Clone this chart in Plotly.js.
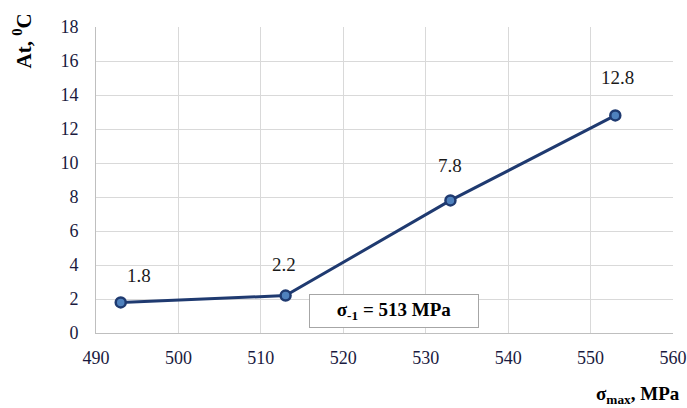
<!DOCTYPE html>
<html><head><meta charset="utf-8">
<script src="https://cdn.plot.ly/plotly-3.0.1.min.js"></script>
<style>body{margin:0;background:#fff}#c{width:687px;height:408px}</style>
</head><body><div id="c"></div>
<script>
const sigmaMax = [493, 513, 533, 553];
const deltaT = [1.8, 2.2, 7.8, 12.8];
const labels = ["1.8", "2.2", "7.8", "12.8"];
const xTicks = [490, 500, 510, 520, 530, 540, 550, 560];
const yTicks = [0, 2, 4, 6, 8, 10, 12, 14, 16, 18];

// label placement offsets (px), layout only
const labelShiftX = [18, -2, 0, 2];
const labelShiftY = [27, 31, 35, 38];

const serif = "Liberation Serif";
const navy = "#1f3a70";

const trace = {
  x: sigmaMax, y: deltaT, type: "scatter", mode: "lines+markers",
  line: {color: navy, width: 3},
  marker: {size: 10, color: "#4f81bd", line: {color: navy, width: 2.5}},
  hoverinfo: "none", cliponaxis: false
};

const annotations = sigmaMax.map((x, i) => ({
  x: x, y: deltaT[i], text: labels[i], showarrow: false,
  xshift: labelShiftX[i], yshift: labelShiftY[i],
  font: {family: serif, size: 19, color: "#1a1a1a"}
}));
annotations.push({
  xref: "paper", yref: "paper", x: -0.128, y: 0.953, xanchor: "center", yanchor: "middle",
  text: "At, <sup>0</sup>C", textangle: -90, showarrow: false,
  font: {family: serif, size: 21, color: "#000", weight: "bold"}
});
annotations.push({
  xref: "paper", yref: "paper", x: 1.015, y: -0.203, xanchor: "right", yanchor: "middle",
  text: "σ<sub>max</sub>, MPa", showarrow: false,
  font: {family: serif, size: 19, color: "#000", weight: "bold"}
});
annotations.push({
  xref: "paper", yref: "paper", x: 0.516, y: 0.072, xanchor: "center", yanchor: "middle",
  text: "σ<sub>-1</sub> = 513 MPa", showarrow: false,
  font: {family: serif, size: 19, color: "#000", weight: "bold"},
  bgcolor: "#fff", bordercolor: "#a6a6a6", borderwidth: 1,
  width: 166, height: 30
});

const layout = {
  width: 687, height: 408,
  margin: {l: 96, r: 14, t: 27, b: 75},
  paper_bgcolor: "#fff", plot_bgcolor: "#fff",
  showlegend: false,
  font: {family: serif},
  xaxis: {
    range: [490, 560], tickvals: xTicks, ticktext: xTicks.map(String),
    showgrid: true, gridcolor: "#d9d9d9", gridwidth: 1,
    zeroline: false, showline: true, linecolor: "#bfbfbf", linewidth: 1,
    ticks: "", ticklen: 0, ticklabelstandoff: 8,
    tickfont: {family: serif, size: 18, color: "#1a1a40"}
  },
  yaxis: {
    range: [0, 18], tickvals: yTicks, ticktext: yTicks.map(String),
    showgrid: true, gridcolor: "#d9d9d9", gridwidth: 1,
    zeroline: false, showline: true, linecolor: "#bfbfbf", linewidth: 1,
    ticks: "", ticklen: 0, ticklabelstandoff: 13,
    tickfont: {family: serif, size: 18, color: "#1a1a40"}
  },
  annotations: annotations
};

Plotly.newPlot("c", [trace], layout, {staticPlot: true, displayModeBar: false});
</script></body></html>
